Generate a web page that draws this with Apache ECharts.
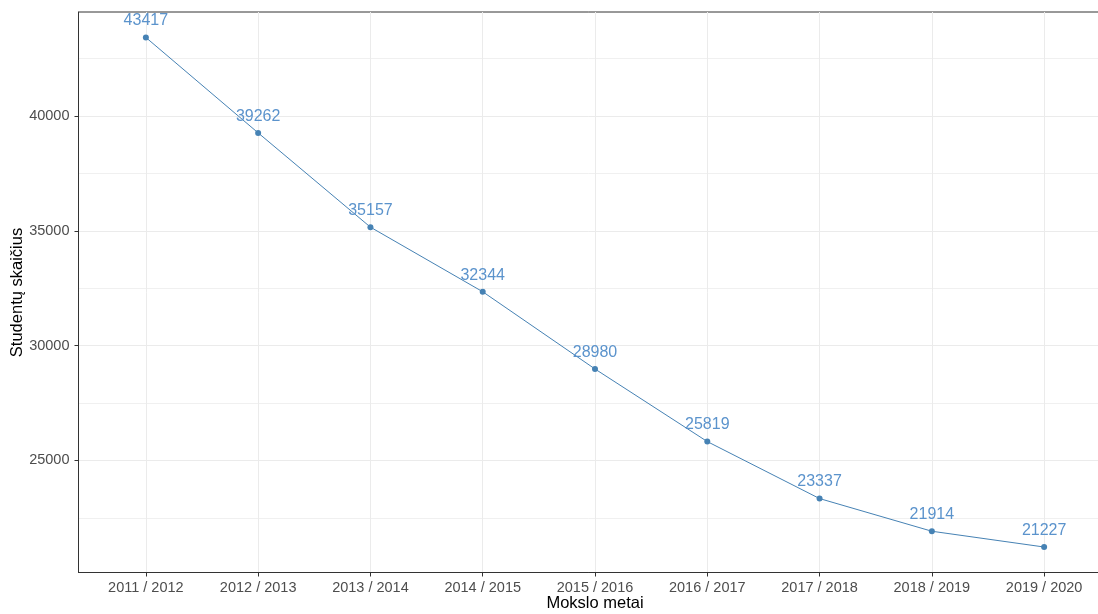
<!DOCTYPE html>
<html>
<head>
<meta charset="utf-8">
<script src="https://cdn.jsdelivr.net/npm/echarts@6/dist/echarts.min.js"></script>
<style>
html,body{margin:0;padding:0;background:#fff;}
#chart{width:1098px;height:614px;}
</style>
</head>
<body>
<div id="chart"></div>
<script>
const categories = ['2011 / 2012','2012 / 2013','2013 / 2014','2014 / 2015','2015 / 2016','2016 / 2017','2017 / 2018','2018 / 2019','2019 / 2020'];
const students = [43417, 39262, 35157, 32344, 28980, 25819, 23337, 21914, 21227];
const yMajorTicks = [25000, 30000, 35000, 40000];
const yMinorTicks = [22500, 27500, 32500, 37500, 42500];
const xTicks = categories.map((c, i) => i);
const xTitle = 'Mokslo metai';
const yTitle = 'Studentų skaičius';

const yMin = 20117.5, yMax = 44526.5;
const font = 'Liberation Sans, Arial, sans-serif';

const chart = echarts.init(document.getElementById('chart'), null, {renderer: 'canvas'});
chart.setOption({
  animation: false,
  backgroundColor: '#ffffff',
  grid: {
    left: 78.5, top: 12, width: 1033, bottom: 41.5,
    outerBoundsMode: 'none', containLabel: false,
    show: true, borderColor: '#333333', borderWidth: 1, backgroundColor: 'transparent'
  },
  graphic: [{
    type: 'text', x: 595, y: 603,
    style: {text: xTitle, fill: '#000', font: '16.5px Liberation Sans, Arial, sans-serif', align: 'center', verticalAlign: 'middle'}
  }, {
    type: 'text', x: 17, y: 292.5, rotation: Math.PI / 2,
    style: {text: yTitle, fill: '#000', font: '16.5px Liberation Sans, Arial, sans-serif', align: 'center', verticalAlign: 'middle'}
  }],
  xAxis: {
    type: 'value', min: -0.6, max: 8.6,
    axisLine: {show: true, onZero: false, lineStyle: {color: '#333333', width: 1}},
    axisTick: {show: true, customValues: xTicks, length: 4, lineStyle: {color: '#333333'}},
    axisLabel: {customValues: xTicks, color: '#4D4D4D', fontSize: 14.5, fontFamily: font, margin: 8,
      formatter: v => categories[Math.round(v)] || ''},
    splitLine: {show: true, lineStyle: {color: '#EBEBEB', width: 1}}
  },
  yAxis: [{
    type: 'value', min: yMin, max: yMax,
    axisLine: {show: true, onZero: false, lineStyle: {color: '#333333', width: 1}},
    axisTick: {show: true, customValues: yMajorTicks, length: 4, lineStyle: {color: '#333333'}},
    axisLabel: {customValues: yMajorTicks, color: '#4D4D4D', fontSize: 14.5, fontFamily: font, margin: 9,
      formatter: v => String(v)},
    splitLine: {show: true, lineStyle: {color: '#EBEBEB', width: 1}}
  }, {
    type: 'value', min: yMin, max: yMax, position: 'left',
    axisLine: {show: false, onZero: false},
    axisTick: {show: false, customValues: yMinorTicks},
    axisLabel: {show: false, customValues: yMinorTicks},
    splitLine: {show: true, lineStyle: {color: '#F0F0F0', width: 1}}
  }],
  series: [{
    type: 'line',
    yAxisIndex: 0,
    data: students.map((v, i) => [i, v]),
    symbol: 'circle', symbolSize: 6,
    lineStyle: {color: '#4682B4', width: 1},
    itemStyle: {color: '#4682B4'},
    label: {show: true, position: 'top', distance: 5.5, color: '#5B93CC', fontSize: 16, fontFamily: font,
      formatter: p => String(p.value[1])}
  }]
});
</script>
</body>
</html>
